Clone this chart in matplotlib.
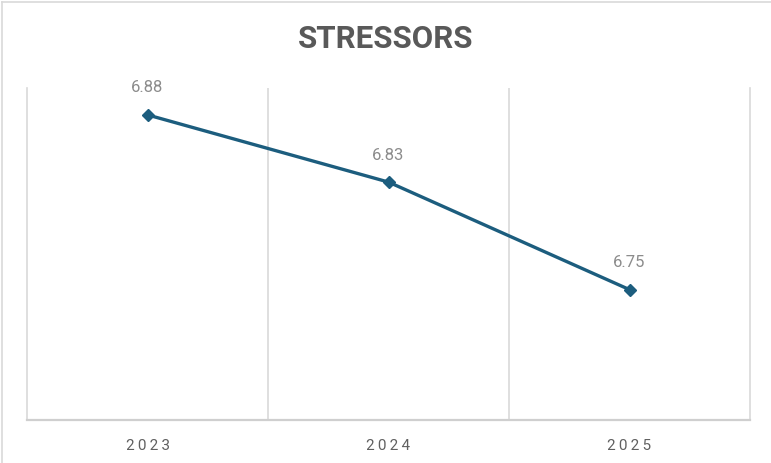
import matplotlib.pyplot as plt
from matplotlib.lines import Line2D

# data
years = ["2023", "2024", "2025"]
scores = [6.88, 6.83, 6.75]

line_color = "#1c5d7e"
grid_color = "#d9d9d9"
text_grey = "#595959"
label_grey = "#8c8c8c"

plt.rcParams["font.family"] = ["Roboto", "DejaVu Sans"]

fig = plt.figure(figsize=(7.71, 4.63), dpi=100)
ax = fig.add_axes([27 / 771, 1 - 420 / 463, (750 - 27) / 771, (420 - 88) / 463])

x = list(range(len(years)))
ax.plot(x, scores, color=line_color, lw=2.4, marker="D", ms=6.5,
        markerfacecolor=line_color, markeredgecolor=line_color, zorder=3)

for xi, v in zip(x, scores):
    ax.annotate(f"{v:.2f}", (xi, v), xytext=(0, 14), textcoords="offset points",
                ha="center", va="bottom", fontsize=12, color=label_grey)

ax.set_xlim(-0.5, len(years) - 0.5)
ax.set_ylim(6.653, 6.9)

# category boundaries as vertical grid lines
for b in [0.5, 1.5]:
    ax.axvline(b, color=grid_color, lw=1.2, zorder=1)

ax.set_xticks(x)
ax.set_xticklabels(["\u2009".join(y) for y in years], fontsize=11, color="#606060")
ax.tick_params(axis="x", length=0, pad=14)
ax.set_yticks([])

for side in ["left", "right"]:
    ax.spines[side].set_color(grid_color)
    ax.spines[side].set_linewidth(1.2)
ax.spines["top"].set_visible(False)
ax.spines["bottom"].set_color("#cfcfcf")
ax.spines["bottom"].set_linewidth(1.6)

fig.suptitle("STRESSORS", x=0.5, y=1 - 39 / 463, va="center", fontsize=22.5,
             fontweight="bold", color=text_grey)

# outer frame of the chart area
fig.add_artist(Line2D([2 / 771, 2 / 771], [0, 1 - 2 / 463], transform=fig.transFigure,
                      color="#d9d9d9", lw=1.2))
fig.add_artist(Line2D([2 / 771, 1], [1 - 2 / 463, 1 - 2 / 463], transform=fig.transFigure,
                      color="#d9d9d9", lw=1.2))

fig.savefig("out.png", dpi=100)
